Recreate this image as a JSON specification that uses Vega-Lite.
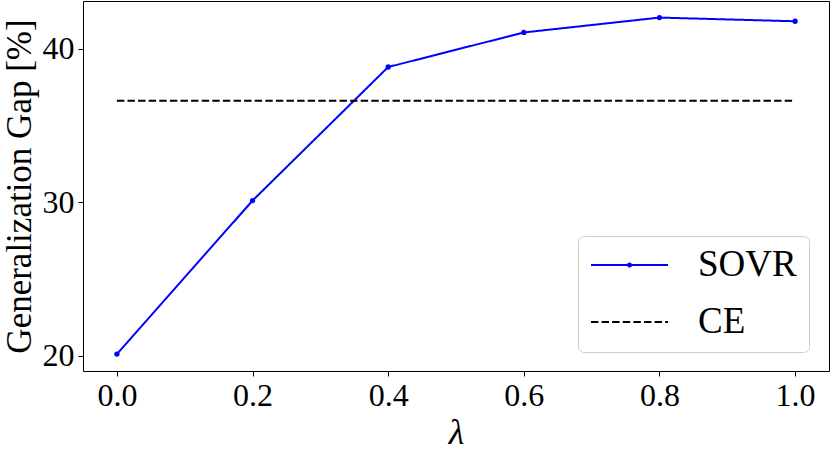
{
  "$schema": "https://vega.github.io/schema/vega-lite/v6.json",
  "width": 746,
  "height": 370,
  "autosize": {"type": "none"},
  "padding": {"left": 83, "top": 1, "right": 1, "bottom": 82},
  "background": "white",
  "config": {
    "view": {"stroke": "#000000", "strokeWidth": 1},
    "font": "Liberation Serif"
  },
  "data": {
    "values": [
      {"lambda": 0.0, "gap": 20.1, "method": "SOVR"},
      {"lambda": 0.2, "gap": 30.1, "method": "SOVR"},
      {"lambda": 0.4, "gap": 38.8, "method": "SOVR"},
      {"lambda": 0.6, "gap": 41.05, "method": "SOVR"},
      {"lambda": 0.8, "gap": 42.02, "method": "SOVR"},
      {"lambda": 1.0, "gap": 41.78, "method": "SOVR"},
      {"lambda": 0.0, "gap": 36.6, "method": "CE"},
      {"lambda": 1.0, "gap": 36.6, "method": "CE"}
    ]
  },
  "layer": [
    {
      "mark": {"type": "line", "strokeWidth": 2},
      "encoding": {
        "x": {
          "field": "lambda", "type": "quantitative",
          "scale": {"domain": [-0.05, 1.05], "nice": false, "zero": false},
          "axis": {
            "title": "λ", "titleFont": "Liberation Serif", "titleFontStyle": "italic", "titleFontSize": 36,
            "titleFontWeight": "normal", "titleColor": "#000", "titlePadding": 4,
            "values": [0, 0.2, 0.4, 0.6, 0.8, 1.0], "format": ".1f",
            "labelFont": "Liberation Serif", "labelFontSize": 32, "labelColor": "#000", "labelPadding": 4,
            "labelFlush": false, "labelOverlap": false,
            "tickColor": "#000", "tickSize": 5, "tickWidth": 1, "domain": false, "grid": false
          }
        },
        "y": {
          "field": "gap", "type": "quantitative",
          "scale": {"domain": [19.0, 43.1], "nice": false, "zero": false},
          "axis": {
            "title": "Generalization Gap [%]", "titleFont": "Liberation Serif", "titleFontSize": 35,
            "titleFontWeight": "normal", "titleColor": "#000", "titlePadding": 5,
            "values": [20, 30, 40], "format": "d",
            "labelFont": "Liberation Serif", "labelFontSize": 32, "labelColor": "#000", "labelPadding": 4,
            "labelOverlap": false,
            "tickColor": "#000", "tickSize": 5, "tickWidth": 1, "domain": false, "grid": false
          }
        },
        "color": {
          "field": "method", "type": "nominal",
          "scale": {"domain": ["SOVR", "CE"], "range": ["#0000ff", "#000000"]},
          "legend": {
            "title": null, "orient": "none", "legendX": 495, "legendY": 235,
            "symbolType": "stroke", "symbolSize": 5929, "symbolStrokeWidth": 2,
            "labelFont": "Liberation Serif", "labelFontSize": 37, "labelColor": "#000", "labelOffset": 29, "labelLimit": 400,
            "padding": 12, "fillColor": "#ffffff", "strokeColor": "#cccccc", "cornerRadius": 6,
            "rowPadding": 20, "clipHeight": 34,
            "encode": {"symbols": {"update": {"shape": {"signal": "datum.value === 'SOVR' ? 'M-1,0H1M-0.04,0A0.04,0.04 0 1,0 0.04,0A0.04,0.04 0 1,0 -0.04,0' : 'M-1,0H1'"}}}}
          }
        },
        "strokeDash": {
          "field": "method", "type": "nominal",
          "scale": {"domain": ["SOVR", "CE"], "range": [[1, 0], [7.4, 3.2]]},
          "legend": {
            "title": null, "orient": "none", "legendX": 495, "legendY": 235,
            "symbolType": "stroke", "symbolSize": 5929, "symbolStrokeWidth": 2,
            "labelFont": "Liberation Serif", "labelFontSize": 37, "labelColor": "#000", "labelOffset": 29, "labelLimit": 400,
            "padding": 12, "fillColor": "#ffffff", "strokeColor": "#cccccc", "cornerRadius": 6,
            "rowPadding": 20, "clipHeight": 34,
            "encode": {"symbols": {"update": {"shape": {"signal": "datum.value === 'SOVR' ? 'M-1,0H1M-0.04,0A0.04,0.04 0 1,0 0.04,0A0.04,0.04 0 1,0 -0.04,0' : 'M-1,0H1'"}}}}
          }
        }
      }
    },
    {
      "transform": [{"filter": "datum.method === 'SOVR'"}],
      "mark": {"type": "point", "filled": true, "size": 28, "color": "#0000ff", "opacity": 1},
      "encoding": {
        "x": {"field": "lambda", "type": "quantitative"},
        "y": {"field": "gap", "type": "quantitative"}
      }
    }
  ]
}
